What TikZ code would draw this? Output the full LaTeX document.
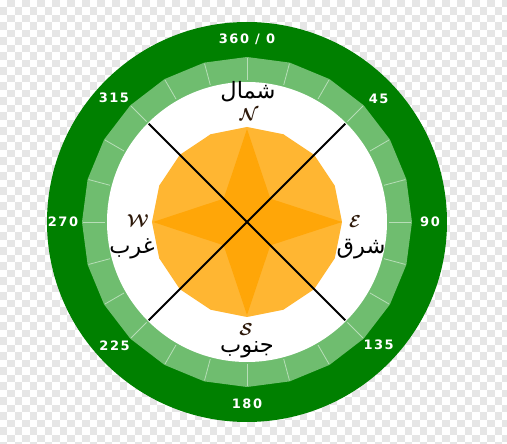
\documentclass[tikz,border=0pt]{standalone}
\usepackage{fontspec}
\newfontfamily\arabicfont[Script=Arabic]{DejaVu Sans}
\newfontfamily\numfont[LetterSpace=12]{DejaVu Sans}
\TeXXeTstate=1
\definecolor{darkgreen}{RGB}{0,128,0}
\definecolor{bandgreen}{RGB}{111,189,111}
\definecolor{roselight}{RGB}{255,182,50}
\definecolor{rosedark}{RGB}{255,166,8}
\definecolor{checkgray}{RGB}{230,230,230}
\definecolor{letterbrown}{RGB}{45,25,10}

\begin{document}
\begin{tikzpicture}[x=1pt, y=1pt,
        deg/.style={text=white, font=\numfont\bfseries\fontsize{13}{13}\selectfont},
        dir/.style={font=\arabicfont\fontsize{22.5}{22.5}\selectfont},
        lett/.style={text=letterbrown, font=\boldmath\fontsize{17}{17}\selectfont},
        tick/.style={white, opacity=0.5, line width=0.8pt}]
    \useasboundingbox (-247,-222) rectangle (260,222);
    % checkerboard
    \begin{scope}
        \clip (-247,-222) rectangle (260,222);
        \foreach \i in {0,...,34} \foreach \j in {0,...,30} {
            \fill[checkgray] (-247+15*\i+7.5,222-15*\j) rectangle ++(7.5,-7.5);
            \fill[checkgray] (-247+15*\i,222-15*\j-7.5) rectangle ++(7.5,-7.5);
        }
    \end{scope}
    \coordinate (O) at (0,0);
    % rings
    \fill[darkgreen] (O) circle (200);
    \fill[bandgreen] (90:165) \foreach \a in {15,30,...,345} {-- (90+\a:165)} -- cycle;
    \foreach \a in {0,15,...,345} \draw[tick] (\a:142) -- (\a:164);
    \fill[white] (O) circle (140);
    % rose
    \fill[roselight] (90:95) \foreach \a in {22.5,45,...,337.5} {-- (90+\a:95)} -- cycle;
    \fill[rosedark] (90:93) -- (45:33) -- (0:95) -- (-45:33) -- (-90:93)
        -- (-135:33) -- (180:94) -- (135:33) -- cycle;
    %\draw (O) circle (95);
    \coordinate (NW) at (135:139);
    \coordinate (NE) at (45:139);
    \coordinate (SW) at (-135:139);
    \coordinate (SE) at (-45:139);
    \draw[black, line width=1.8pt] (NW) -- (SE) (NE) -- (SW);
    % degrees
    \node[deg] (d0) at (90:183) {360 / 0};
    \node[deg] (d45) at (43:180) {45};
    \node[deg] (d90) at (0:183) {90};
    \node[deg] (d135) at (-43:180) {135};
    \node[deg] (d180) at (-90:182) {180};
    \node[deg] (d225) at (-137:181) {225};
    \node[deg] (d270) at (180:184) {270};
    \node[deg] (d315) at (137:182) {315};
    % letters
    \node[lett] (lN) at (2,107) {$\mathcal{N}$};
    \node[lett] (lE) at (108,0) {$\mathcal{E}$};
    \node[lett] (lS) at (-1,-108) {$\mathcal{S}$};
    \node[lett] (lW) at (-109,1) {$\mathcal{W}$};
    % arabic names
    \node[dir] (north) at (1,130) {\beginR شمال\endR};
    \node[dir] (south) at (0,-128) {\beginR جنوب\endR};
    \node[dir] (east) at (114,-27) {\beginR شرق\endR};
    \node[dir] (west) at (-115,-27) {\beginR غرب\endR};
\end{tikzpicture}
\end{document}
